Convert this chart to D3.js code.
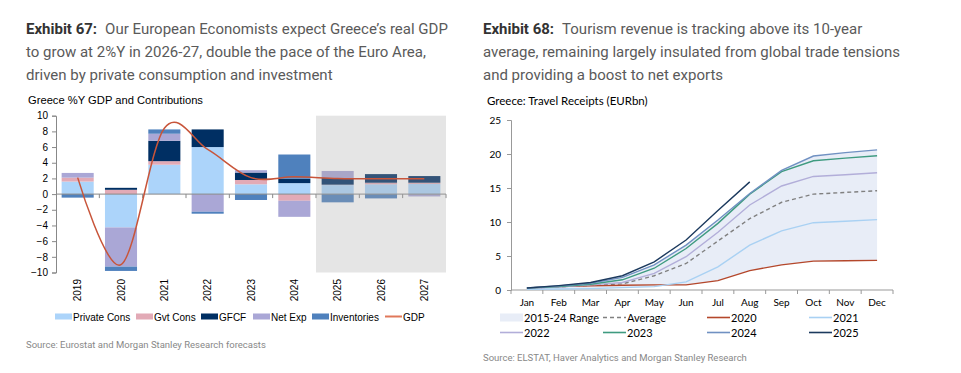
<!DOCTYPE html>
<html>
<head>
<meta charset="utf-8">
<script src="https://cdn.jsdelivr.net/npm/d3@7"></script>
<style>
  body { margin: 0; background: #fff; }
  svg { display: block; }
</style>
</head>
<body>
<svg width="961" height="373"></svg>
<script>
// ---- Exhibit 67 data: GDP contributions (pp) ----
const years = ['2019', '2020', '2021', '2022', '2023', '2024', '2025', '2026', '2027']
const forecastYears = ['2025', '2026', '2027']
const privateCons = [1.6, -4.25, 3.75, 6.0, 1.25, 1.4, 1.15, 1.25, 1.3]
const gvtCons = [0.5, 0.55, 0.45, 0, 0.55, -0.85, 0.05, 0.2, 0.15]
const gfcf = [0, 0.25, 2.6, 2.25, 0.95, 0.55, 0.85, 1.1, 0.85]
const netExp = [0.6, -5.0, 0.9, -2.25, 0.3, -2.05, 0.9, 0, -0.3]
const inventories = [-0.45, -0.55, 0.55, -0.25, -0.75, 3.1, -1.05, -0.55, 0]
const gdp = [2.1, -9.0, 8.4, 5.7, 2.1, 2.2, 2.0, 1.95, 1.95]
const contribNames = ['Private Cons', 'Gvt Cons', 'GFCF', 'Net Exp', 'Inventories']
const contribColors = ['#acd4fa', '#e2aab6', '#002f63', '#aaa7d6', '#4f81bd']
const leftTicks = [-10, -8, -6, -4, -2, 0, 2, 4, 6, 8, 10]

// ---- Exhibit 68 data: cumulative travel receipts (EURbn) ----
const months = ['Jan', 'Feb', 'Mar', 'Apr', 'May', 'Jun', 'Jul', 'Aug', 'Sep', 'Oct', 'Nov', 'Dec']
const rangeLow = [0.1, 0.15, 0.2, 0.35, 0.5, 0.75, 1.37, 2.85, 3.7, 4.25, 4.3, 4.35]
const rangeHigh = [0.3, 0.6, 1.0, 1.85, 3.7, 6.6, 10.3, 14.2, 17.6, 19.7, 20.2, 20.6]
const average = [0.25, 0.45, 0.7, 0.9, 2.1, 3.9, 7.2, 10.5, 12.9, 14.1, 14.35, 14.6]
const y2020 = [0.3, 0.5, 0.6, 0.7, 0.75, 0.75, 1.37, 2.85, 3.7, 4.25, 4.3, 4.35]
const y2021 = [0.1, 0.15, 0.2, 0.35, 0.5, 1.2, 3.4, 6.6, 8.7, 9.9, 10.1, 10.35]
const y2022 = [0.25, 0.45, 0.75, 1.1, 2.45, 4.9, 8.5, 12.5, 15.3, 16.7, 16.95, 17.25]
const y2023 = [0.3, 0.5, 0.85, 1.5, 3.2, 6.1, 9.8, 14.1, 17.4, 19.0, 19.4, 19.75]
const y2024 = [0.3, 0.6, 1.0, 1.85, 3.7, 6.6, 10.3, 14.2, 17.6, 19.7, 20.2, 20.6]
const y2025 = [0.3, 0.65, 1.1, 2.1, 4.15, 7.35, 11.7, 15.9]
const rightTicks = [0, 5, 10, 15, 20, 25]

const svg = d3.select('svg')

// ---------- headers ----------
function header(x, bold, lines) {
  const t = svg.append('text')
    .attr('x', x).attr('y', 34)
    .style('font-family', 'Roboto, sans-serif')
    .style('font-size', '15px')
    .style('fill', '#5a5a5a')
  lines.forEach((line, i) => {
    const ts = t.append('tspan').attr('x', x).attr('dy', i === 0 ? 0 : 23)
    if (i === 0) {
      ts.append('tspan').text(bold).style('font-weight', 700).style('fill', '#333')
      ts.append('tspan').attr('dx', 8).text(line)
    } else {
      ts.text(line)
    }
  })
}
header(26, 'Exhibit 67:', [
  'Our European Economists expect Greece\u2019s real GDP',
  'to grow at 2%Y in 2026-27, double the pace of the Euro Area,',
  'driven by private consumption and investment'
])
header(483, 'Exhibit 68:', [
  'Tourism revenue is tracking above its 10-year',
  'average, remaining largely insulated from global trade tensions',
  'and providing a boost to net exports'
])

// ---------- left chart ----------
const left = { x0: 56, x1: 446, top: 115.7, bottom: 272.5 }
const lg = svg.append('g').style('font-family', '"Liberation Sans", Arial, sans-serif')

lg.append('text').attr('x', 28).attr('y', 103.5)
  .style('font-size', '11.2px').style('fill', '#000')
  .text('Greece %Y GDP and Contributions')

const xL = d3.scaleBand().domain(years).range([left.x0, left.x1])
  .paddingInner(0.26).paddingOuter(0.13)
const yL = d3.scaleLinear().domain([-10, 10]).range([left.bottom, left.top])

const rows = years.map((yr, i) => ({
  year: yr,
  'Private Cons': privateCons[i],
  'Gvt Cons': gvtCons[i],
  'GFCF': gfcf[i],
  'Net Exp': netExp[i],
  'Inventories': inventories[i]
}))
const stacked = d3.stack().keys(contribNames).offset(d3.stackOffsetDiverging)(rows)

lg.selectAll('g.series')
  .data(stacked)
  .join('g')
  .attr('class', 'series')
  .attr('fill', (d, i) => contribColors[i])
  .selectAll('rect')
  .data(d => d)
  .join('rect')
  .attr('x', d => xL(d.data.year))
  .attr('y', d => yL(Math.max(d[0], d[1])))
  .attr('width', xL.bandwidth())
  .attr('height', d => Math.abs(yL(d[0]) - yL(d[1])))

// y axis
const yAxisL = g => g
  .attr('transform', `translate(${left.x0},0)`)
  .call(d3.axisLeft(yL).tickValues(leftTicks).tickSize(4).tickPadding(4))
  .call(g => g.selectAll('.domain, line').attr('stroke', '#888'))
  .call(g => g.selectAll('text').style('font-size', '10px').style('fill', '#000')
    .style('font-family', '"Liberation Sans", Arial, sans-serif'))
lg.append('g').call(yAxisL)

// zero line with ticks at band boundaries
const step = xL.step()
const bounds = years.map(y => xL(y) + xL.bandwidth() / 2 - step / 2).concat([left.x1])
lg.append('line')
  .attr('x1', left.x0).attr('x2', left.x1)
  .attr('y1', yL(0)).attr('y2', yL(0))
  .attr('stroke', '#888')
lg.selectAll('line.xtick')
  .data(bounds.slice(1))
  .join('line')
  .attr('class', 'xtick')
  .attr('x1', d => d).attr('x2', d => d)
  .attr('y1', yL(0)).attr('y2', yL(0) + 4)
  .attr('stroke', '#888')

// forecast shading (drawn over bars to mute them)
const fx0 = xL(forecastYears[0]) + xL.bandwidth() / 2 - step / 2
lg.append('rect')
  .attr('x', fx0).attr('y', left.top)
  .attr('width', left.x1 - fx0).attr('height', left.bottom - left.top)
  .attr('fill', '#aaa').attr('opacity', 0.3)

// year labels
lg.selectAll('text.year')
  .data(years)
  .join('text')
  .attr('class', 'year')
  .attr('transform', d => `translate(${xL(d) + xL.bandwidth() / 2 + 3.5},279) rotate(-90)`)
  .attr('text-anchor', 'end')
  .style('font-size', '10px')
  .style('fill', '#000')
  .text(d => d)

// GDP line
const gdpLine = d3.line()
  .x((d, i) => xL(years[i]) + xL.bandwidth() / 2)
  .y(d => yL(d))
  .curve(d3.curveCardinal.tension(0))
lg.append('path')
  .datum(gdp)
  .attr('d', gdpLine)
  .attr('fill', 'none')
  .attr('stroke', '#c8553a')
  .attr('stroke-width', 1.5)

// left legend
const leftLegend = contribNames.map((n, i) => ({ name: n, color: contribColors[i], type: 'rect' }))
  .concat([{ name: 'GDP', color: '#e0785a', type: 'line' }])
const legXL = [55, 136, 201, 253, 312, 385]
const lgl = lg.append('g')
leftLegend.forEach((d, i) => {
  const x = legXL[i]
  if (d.type === 'rect') {
    lgl.append('rect').attr('x', x).attr('y', 313.5).attr('width', 17).attr('height', 6).attr('fill', d.color)
  } else {
    lgl.append('line').attr('x1', x).attr('x2', x + 17).attr('y1', 316.5).attr('y2', 316.5)
      .attr('stroke', d.color).attr('stroke-width', 2)
  }
  lgl.append('text').attr('x', x + 18).attr('y', 320.5)
    .style('font-size', '10px').style('fill', '#000').text(d.name)
})

svg.append('text').attr('x', 26).attr('y', 347.5)
  .style('font-family', 'Roboto, sans-serif').style('font-size', '9.5px').style('fill', '#888')
  .text('Source: Eurostat and Morgan Stanley Research forecasts')

// ---------- right chart ----------
const right = { x0: 511, x1: 893, top: 120, bottom: 290 }
const rg = svg.append('g').style('font-family', 'Lato, "Open Sans", sans-serif')

rg.append('text').attr('x', 487).attr('y', 104.5)
  .style('font-size', '11.5px').style('fill', '#000')
  .text('Greece: Travel Receipts (EURbn)')

const xR = d3.scalePoint().domain(months).range([right.x0, right.x1]).padding(0.5)
const yR = d3.scaleLinear().domain([0, 25]).range([right.bottom, right.top])
const stepR = xR.step()

// range band
const area = d3.area()
  .x((d, i) => xR(months[i]))
  .y0((d, i) => yR(rangeLow[i]))
  .y1(d => yR(d))
rg.append('path').datum(rangeHigh).attr('d', area).attr('fill', '#e8edf7')

// axes
rg.append('g')
  .attr('transform', `translate(${right.x0},0)`)
  .call(d3.axisLeft(yR).tickValues(rightTicks).tickSize(4).tickPadding(6))
  .call(g => g.selectAll('.domain, line').attr('stroke', '#999'))
  .call(g => g.selectAll('text').style('font-size', '10px').style('fill', '#000')
    .style('font-family', 'Lato, "Open Sans", sans-serif'))

rg.append('line')
  .attr('x1', right.x0).attr('x2', right.x1)
  .attr('y1', right.bottom).attr('y2', right.bottom)
  .attr('stroke', '#999')
rg.selectAll('line.mtick')
  .data(d3.range(months.length + 1))
  .join('line')
  .attr('class', 'mtick')
  .attr('x1', i => right.x0 + i * stepR).attr('x2', i => right.x0 + i * stepR)
  .attr('y1', right.bottom).attr('y2', right.bottom + 4)
  .attr('stroke', '#999')
rg.selectAll('text.month')
  .data(months)
  .join('text')
  .attr('class', 'month')
  .attr('x', d => xR(d)).attr('y', 306)
  .attr('text-anchor', 'middle')
  .style('font-size', '10px').style('fill', '#000')
  .text(d => d)

// lines
const series = [
  { name: 'Average', values: average, color: '#808080', dash: '4,3' },
  { name: '2020', values: y2020, color: '#b4472b' },
  { name: '2021', values: y2021, color: '#a9d1f3' },
  { name: '2022', values: y2022, color: '#b2aed9' },
  { name: '2023', values: y2023, color: '#3f9b80' },
  { name: '2024', values: y2024, color: '#7091c2' },
  { name: '2025', values: y2025, color: '#1c3a5e' }
]
const lineR = d3.line().x((d, i) => xR(months[i])).y(d => yR(d))
rg.selectAll('path.ser')
  .data(series)
  .join('path')
  .attr('class', 'ser')
  .attr('d', d => lineR(d.values))
  .attr('fill', 'none')
  .attr('stroke', d => d.color)
  .attr('stroke-width', 1.4)
  .attr('stroke-dasharray', d => d.dash || null)

// right legend
const rightLegend = [{ name: '2015-24 Range', color: '#e8edf7', type: 'rect' }]
  .concat(series.map(s => ({ name: s.name, color: s.color, dash: s.dash, type: 'line' })))
const legColsR = [500, 603, 707, 809]
const legRowsR = [317.5, 332.5]
rightLegend.forEach((d, i) => {
  const x = legColsR[i % 4]
  const y = legRowsR[Math.floor(i / 4)]
  if (d.type === 'rect') {
    rg.append('rect').attr('x', x).attr('y', y - 4).attr('width', 23).attr('height', 8).attr('fill', d.color)
  } else {
    rg.append('line').attr('x1', x).attr('x2', x + 23).attr('y1', y).attr('y2', y)
      .attr('stroke', d.color).attr('stroke-width', 1.6)
      .attr('stroke-dasharray', d.dash || null)
  }
  rg.append('text').attr('x', x + 24).attr('y', y + 4)
    .style('font-size', '11px').style('fill', '#000').text(d.name)
})

svg.append('text').attr('x', 483).attr('y', 360.5)
  .style('font-family', 'Roboto, sans-serif').style('font-size', '9.5px').style('fill', '#888')
  .text('Source: ELSTAT, Haver Analytics and Morgan Stanley Research')
</script>
</body>
</html>
